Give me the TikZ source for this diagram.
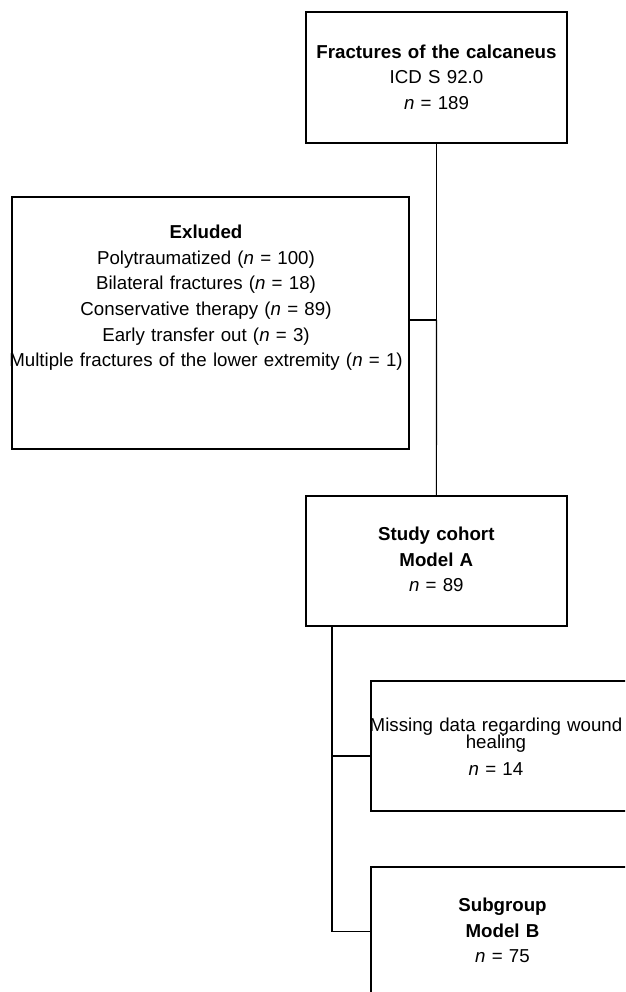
\documentclass[tikz,border=0pt]{standalone}
\usepackage{fontspec}
\setmainfont{Liberation Sans}
\begin{document}
\begin{tikzpicture}[x=1pt,y=-1pt,
  box/.style={draw,line width=1.8pt,rectangle,inner sep=0pt},
  txt/.style={font=\fontsize{18.7}{25.5}\selectfont,align=center,inner sep=0pt,anchor=base},
  conn/.style={line width=1.2pt},
  thickconn/.style={line width=1.8pt}]
\clip (0,0) rectangle (625,992);
\useasboundingbox (0,0) rectangle (625,992);
% boxes
\node[box,minimum width=261.6pt,minimum height=131pt] (top) at (436.5,77.8) {};
\node[box,minimum width=397.6pt,minimum height=251.7pt] (excl) at (210.5,323.15) {};
\node[box,minimum width=261.3pt,minimum height=130pt] (study) at (436.35,560.7) {};
\node[box,minimum width=279pt,minimum height=130pt] (miss) at (510.5,746) {};
\node[box,minimum width=279pt,minimum height=130pt] (sub) at (510.5,931.7) {};
% texts
\node[txt,text width=300pt] (toptxt) at (436.5,58.3) {\textbf{Fractures of the calcaneus}\\ICD S 92.0\\\textit{n} = 189};
\node[txt,text width=420pt] (excltxt) at (206,239) {\textbf{Exluded}\\Polytraumatized (\textit{n} = 100)\\Bilateral fractures (\textit{n} = 18)\\Conservative therapy (\textit{n} = 89)\\Early transfer out (\textit{n} = 3)\\Multiple fractures of the lower extremity (\textit{n} = 1)};
\node[txt,text width=300pt] (studytxt) at (436.3,540.7) {\textbf{Study cohort}\\\textbf{Model A}\\\textit{n} = 89};
\node[txt,text width=300pt] (misstxt) at (496,731.7) {Missing data regarding wound\\[-8.7pt]healing\\[1.2pt]\textit{n} = 14};
\node[txt,text width=300pt] (subtxt) at (502.5,911.7) {\textbf{Subgroup}\\\textbf{Model B}\\\textit{n} = 75};
% connectors
\coordinate (j1) at (436.5,320);
\coordinate (bx) at (332,0);
\coordinate (jm) at (332,756);
\draw[thickconn] (top.south) -- (j1);
\draw[conn] (j1) -- (study.north);
\draw[conn] (excl.east |- j1) -- (j1);
\draw[conn] (study.south -| bx) |- (sub.west);
\draw[conn] (jm) -- (miss.west |- jm);
\end{tikzpicture}
\end{document}
